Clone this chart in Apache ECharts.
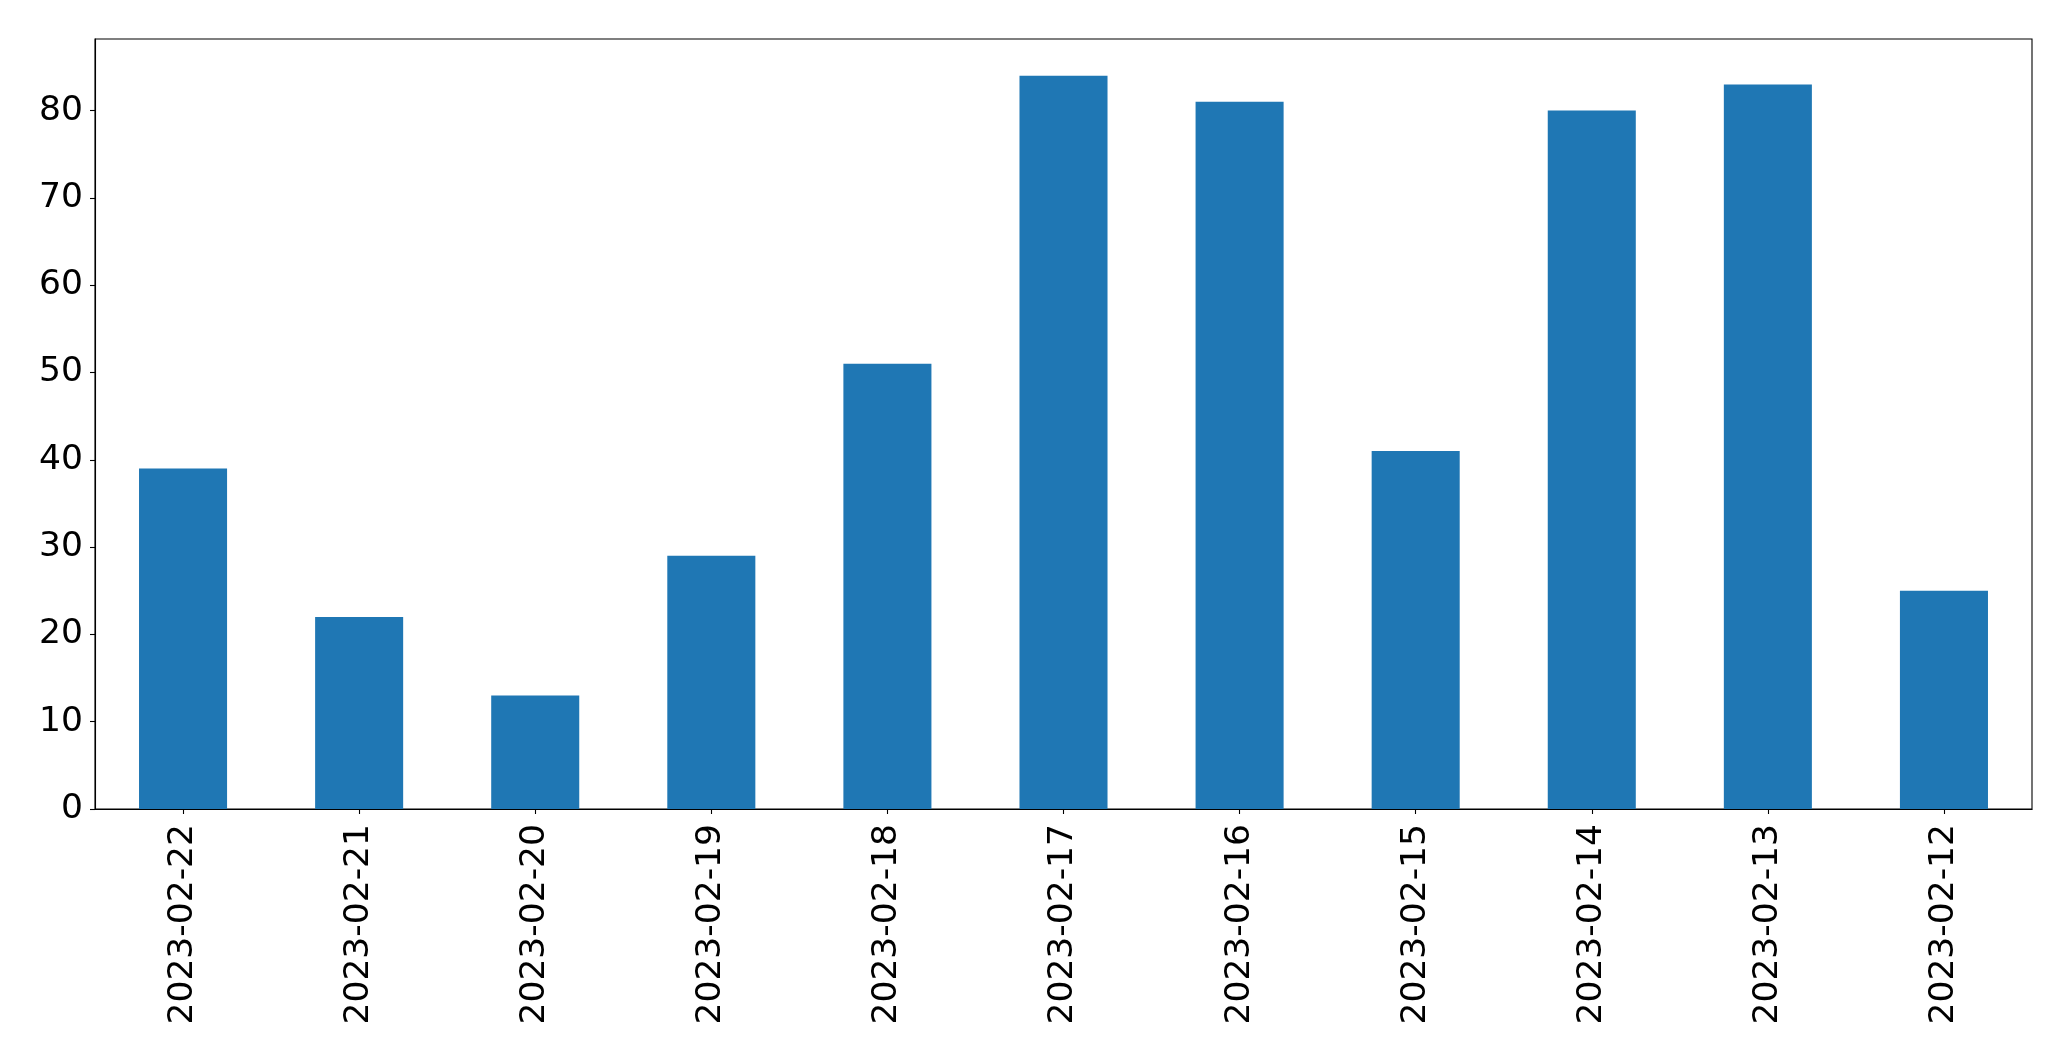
<!DOCTYPE html>
<html>
<head>
<meta charset="utf-8">
<script src="https://cdn.jsdelivr.net/npm/echarts@6/dist/echarts.min.js"></script>
<style>
html,body{margin:0;padding:0;background:#fff;}
#chart{width:2071px;height:1061px;}
</style>
</head>
<body>
<div id="chart"></div>
<script>
const categories = ["2023-02-22","2023-02-21","2023-02-20","2023-02-19","2023-02-18","2023-02-17","2023-02-16","2023-02-15","2023-02-14","2023-02-13","2023-02-12"];
const values = [39, 22, 13, 29, 51, 84, 81, 41, 80, 83, 25];
const yTicks = [0, 10, 20, 30, 40, 50, 60, 70, 80];
const yMax = 88.2;

const chart = echarts.init(document.getElementById('chart'), null, {renderer: 'canvas'});
const font = 'DejaVu Sans';
chart.setOption({
  animation: false,
  backgroundColor: '#ffffff',
  grid: {
    left: 95, right: 39, top: 39, bottom: 252,
    containLabel: false, outerBoundsMode: 'none',
    show: true, borderColor: '#000', borderWidth: 1.1, backgroundColor: 'transparent'
  },
  xAxis: {
    type: 'category',
    data: categories,
    boundaryGap: true,
    axisLine: {show: true, lineStyle: {color: '#000', width: 1.1}},
    axisTick: {show: true, alignWithLabel: true, length: 5, lineStyle: {color: '#000', width: 1.1}},
    axisLabel: {show: true, rotate: 90, margin: 15, color: '#000', fontFamily: font, fontSize: 34.5, interval: 0},
    splitLine: {show: false}
  },
  yAxis: {
    type: 'value',
    min: 0, max: yMax, interval: 10,
    axisLine: {show: true, lineStyle: {color: '#000', width: 1.1}},
    axisTick: {show: true, length: 5, customValues: yTicks, lineStyle: {color: '#000', width: 1.1}},
    axisLabel: {show: true, margin: 12, color: '#000', fontFamily: font, fontSize: 34.5, customValues: yTicks},
    splitLine: {show: false}
  },
  series: [{
    type: 'bar',
    data: values,
    barWidth: '50%',
    itemStyle: {color: '#1f77b4'}
  }]
});
</script>
</body>
</html>
